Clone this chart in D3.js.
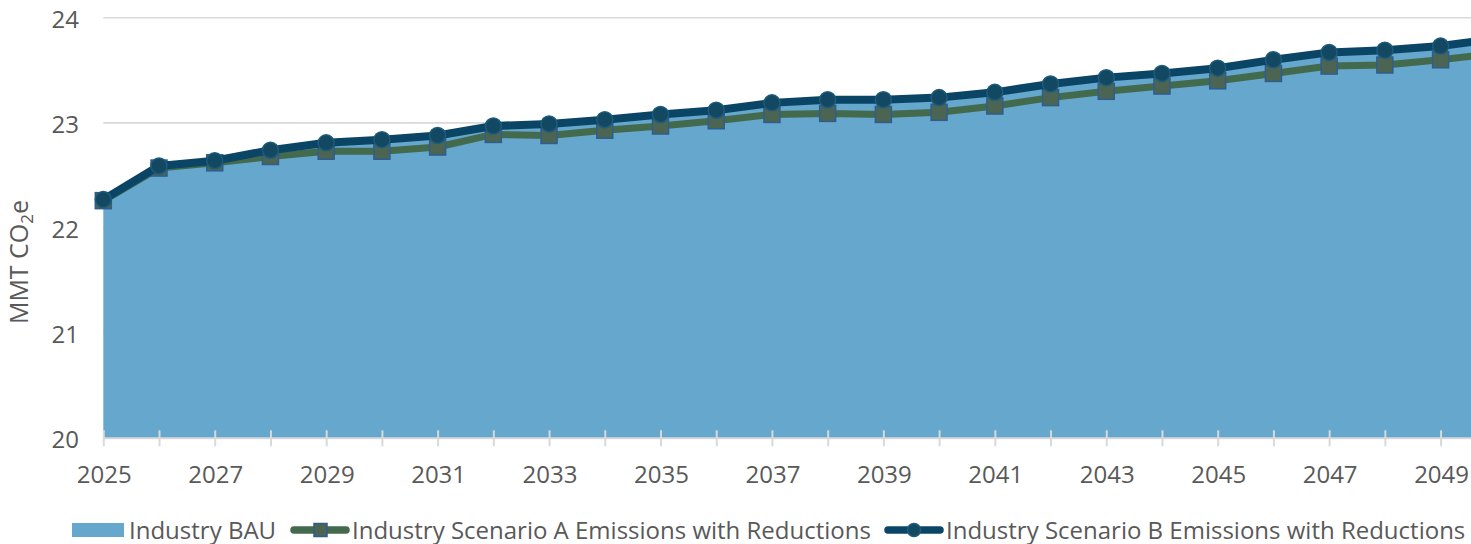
<!DOCTYPE html>
<html>
<head>
<meta charset="utf-8">
<script src="https://cdn.jsdelivr.net/npm/d3@7"></script>
<style>
  html, body { margin: 0; padding: 0; background: #ffffff; }
  svg { display: block; font-family: "Open Sans", sans-serif; }
</style>
</head>
<body>
<svg id="chart" width="1471" height="544"></svg>
<script>
// Industry emissions, MMT CO2e
const years = [2025, 2026, 2027, 2028, 2029, 2030, 2031, 2032, 2033, 2034, 2035, 2036, 2037,
               2038, 2039, 2040, 2041, 2042, 2043, 2044, 2045, 2046, 2047, 2048, 2049, 2050];
const industryBAU = [22.25, 22.57, 22.62, 22.71, 22.78, 22.81, 22.85, 22.94, 22.96, 23.00, 23.05, 23.09, 23.16,
                     23.19, 23.19, 23.21, 23.26, 23.34, 23.40, 23.44, 23.49, 23.57, 23.64, 23.66, 23.70, 23.78];
const scenarioA = [22.26, 22.57, 22.62, 22.68, 22.73, 22.73, 22.77, 22.89, 22.88, 22.93, 22.97, 23.02, 23.08,
                   23.09, 23.08, 23.10, 23.16, 23.24, 23.30, 23.35, 23.40, 23.47, 23.54, 23.55, 23.60, 23.66];
const scenarioB = [22.27, 22.59, 22.64, 22.74, 22.81, 22.84, 22.88, 22.97, 22.99, 23.03, 23.08, 23.12, 23.19,
                   23.22, 23.22, 23.24, 23.29, 23.37, 23.43, 23.47, 23.52, 23.60, 23.67, 23.69, 23.73, 23.80];
const yTicks = [20, 21, 22, 23, 24];
const xLabelYears = years.filter((y, i) => i % 2 === 0 && y < 2050);
const legendLabels = ["Industry BAU", "Industry Scenario A Emissions with Reductions", "Industry Scenario B Emissions with Reductions"];

const COLORS = {
  area: "#65a7cd",
  lineA: "#436a4d",
  markA: "#4b6552",
  markAStroke: "#2f5d90",
  lineB: "#0b4566",
  markB: "#134862",
  markBStroke: "#1d5c7b",
  grid: "#d9d9d9",
  text: "#595959"
};

const svg = d3.select("#chart");
const plot = { left: 103.3, top: 17.7, bottom: 438.3 };
const step = 55.72;

const x = d3.scaleLinear().domain([2025, 2050]).range([plot.left, plot.left + 25 * step]);
const y = d3.scaleLinear().domain([20, 24]).range([plot.bottom, plot.top]);

// horizontal gridlines
svg.append("g")
  .selectAll("line")
  .data(yTicks)
  .join("line")
  .attr("x1", plot.left).attr("x2", 1471)
  .attr("y1", d => y(d)).attr("y2", d => y(d))
  .attr("stroke", COLORS.grid).attr("stroke-width", 1.6);

// y tick labels
svg.append("g")
  .selectAll("text")
  .data(yTicks)
  .join("text")
  .attr("x", 79).attr("y", d => y(d) + 10)
  .attr("text-anchor", "end")
  .attr("font-size", 24).attr("fill", COLORS.text)
  .text(d => d);

// BAU area
svg.append("path")
  .datum(years.map((yr, i) => [yr, industryBAU[i]]))
  .attr("fill", COLORS.area)
  .attr("d", d3.area().x(d => x(d[0])).y0(y(20)).y1(d => y(d[1])));

// x axis with category ticks crossing the axis line
const xAxis = d3.axisBottom(x)
  .tickValues(years)
  .tickSize(0)
  .tickFormat("");
const gx = svg.append("g").attr("transform", `translate(0,${y(20)})`).call(xAxis);
gx.select(".domain").remove();
gx.append("line").attr("x1", plot.left).attr("x2", 1471).attr("y1", 0).attr("y2", 0)
  .attr("stroke", COLORS.grid).attr("stroke-width", 2);
gx.selectAll(".tick").append("line")
  .attr("y1", -8).attr("y2", 8)
  .attr("stroke", COLORS.grid).attr("stroke-width", 2);

svg.append("g")
  .selectAll("text")
  .data(xLabelYears)
  .join("text")
  .attr("x", d => x(d) + 1).attr("y", 483)
  .attr("text-anchor", "middle")
  .attr("font-size", 24).attr("fill", COLORS.text)
  .text(d => d);

// y axis title
const title = svg.append("text")
  .attr("transform", "translate(28,262) rotate(-90)")
  .attr("text-anchor", "middle")
  .attr("font-size", 25).attr("fill", COLORS.text);
title.append("tspan").text("MMT CO");
title.append("tspan").attr("font-size", 17).attr("dy", 5).text("2");
title.append("tspan").attr("dy", -5).text("e");

const line = d3.line().x(d => x(d[0])).y(d => y(d[1]));

function drawSeries(values, lineColor, width, marker) {
  const pts = years.map((yr, i) => [yr, values[i]]);
  svg.append("path").datum(pts)
    .attr("fill", "none").attr("stroke", lineColor)
    .attr("stroke-width", width).attr("stroke-linejoin", "round")
    .attr("d", line);
  const g = svg.append("g");
  if (marker === "square") {
    g.selectAll("rect").data(pts).join("rect")
      .attr("x", d => x(d[0]) - 8).attr("y", d => y(d[1]) - 8)
      .attr("width", 16).attr("height", 16)
      .attr("fill", COLORS.markA).attr("stroke", COLORS.markAStroke).attr("stroke-width", 1.5);
  } else {
    g.selectAll("circle").data(pts).join("circle")
      .attr("cx", d => x(d[0])).attr("cy", d => y(d[1])).attr("r", 8)
      .attr("fill", COLORS.markB).attr("stroke", COLORS.markBStroke).attr("stroke-width", 1.5);
  }
}

drawSeries(scenarioA, COLORS.lineA, 7, "square");
drawSeries(scenarioB, COLORS.lineB, 8, "circle");

// legend
const legend = svg.append("g");
const ly = 530;
legend.append("rect").attr("x", 72).attr("y", ly - 7).attr("width", 52).attr("height", 14).attr("fill", COLORS.area);
legend.append("text").attr("x", 129).attr("y", ly + 8.5).attr("font-size", 24).attr("fill", COLORS.text).text(legendLabels[0]);

legend.append("line").attr("x1", 294).attr("x2", 346).attr("y1", ly).attr("y2", ly)
  .attr("stroke", COLORS.lineA).attr("stroke-width", 7.5).attr("stroke-linecap", "round");
legend.append("rect").attr("x", 314).attr("y", ly - 6.5).attr("width", 13).attr("height", 13)
  .attr("fill", COLORS.markA).attr("stroke", COLORS.markAStroke).attr("stroke-width", 1.5);
legend.append("text").attr("x", 352).attr("y", ly + 8.5).attr("font-size", 24).attr("fill", COLORS.text).text(legendLabels[1]);

legend.append("line").attr("x1", 888).attr("x2", 940).attr("y1", ly).attr("y2", ly)
  .attr("stroke", COLORS.lineB).attr("stroke-width", 7.5).attr("stroke-linecap", "round");
legend.append("circle").attr("cx", 914).attr("cy", ly).attr("r", 6.5)
  .attr("fill", COLORS.markB).attr("stroke", COLORS.markBStroke).attr("stroke-width", 1.5);
legend.append("text").attr("x", 946).attr("y", ly + 8.5).attr("font-size", 24).attr("fill", COLORS.text).text(legendLabels[2]);
</script>
</body>
</html>
